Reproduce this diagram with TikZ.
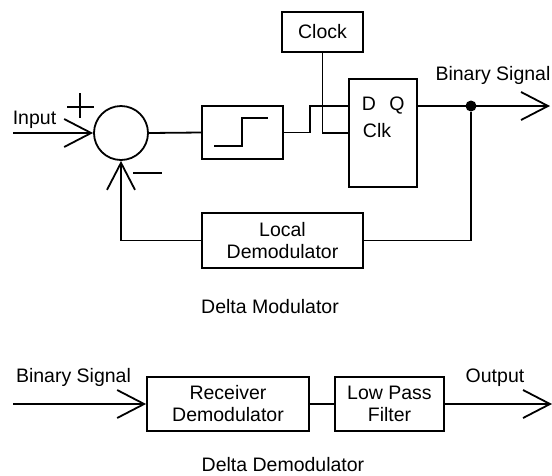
\documentclass[tikz,border=0pt]{standalone}
\usepackage{fontspec}
\setmainfont{Liberation Sans}
\usetikzlibrary{arrows.meta}
\begin{document}
\begin{tikzpicture}[x=1pt,y=-1pt,
  every node/.style={font=\fontsize{19.5}{22}\selectfont},
  wire/.style={line width=1.8pt},
  barb/.style={wire,-{Straight Barb[length=27pt,width=28pt]}},
  blk/.style={draw,line width=1.8pt,rectangle,inner sep=0pt,align=center},
  lbl/.style={anchor=base,inner sep=0pt}]
\useasboundingbox (0,0) rectangle (552,475);
% Delta modulator
\node[draw,circle,line width=1.8pt,minimum size=54pt,inner sep=0pt] (sum) at (121,133) {};
\node[blk,minimum width=81pt,minimum height=53pt] (quant) at (242.5,132.5) {};
\node[blk,minimum width=81pt,minimum height=40pt] (clock) at (322.5,32) {Clock};
\node[blk,minimum width=68pt,minimum height=108pt] (ff) at (383,133) {};
\node[blk,minimum width=161pt,minimum height=55pt] (local) at (282.5,240.5) {Local\\Demodulator};
\node[circle,fill,inner sep=0pt,minimum size=11pt] (dot) at (471,106) {};
\coordinate (in) at (13,133);
\coordinate (ffd) at (349,106);
\coordinate (ffclk) at (349,133);
\coordinate (ffq) at (417,106);
\coordinate (out) at (550,106);
% labels
\node[lbl] (tin) at (34.5,124) {Input};
\node[lbl] (tD) at (369,110) {D};
\node[lbl] (tQ) at (397,110) {Q};
\node[lbl] (tClk) at (377,137) {Clk};
\node[lbl] (tbin) at (493,80) {Binary Signal};
\node[lbl] (tdm) at (270,313) {Delta Modulator};
% signs
\draw[wire] (67,107) -- (94,107) (80,93) -- (80,118);
\draw[wire] (133,173) -- (162,173);
% quantizer step
\draw[wire] (214,146) -- (242,146) -- (242,118) -- (268,118);
% connectors
\draw[barb] (in) -- (sum.west);
\draw[wire] (sum.east) -- (quant.west);
\draw[wire] (quant.east) -- ++(26,0) |- (ffd);
\draw[wire] (clock.south) |- (ffclk);
\draw[barb] (ffq) -- (out);
\draw[wire] (dot) |- (local.east);
\draw[barb] (local.west) -| (sum.south);
% Delta demodulator
\node[blk,minimum width=162pt,minimum height=54pt] (recv) at (228,404) {Receiver\\Demodulator};
\node[blk,minimum width=109pt,minimum height=54pt] (lpf) at (389.5,404) {Low Pass\\Filter};
\coordinate (bin) at (13,404);
\coordinate (bout) at (552,404);
\node[lbl] (tbin2) at (73.5,382) {Binary Signal};
\node[lbl] (tout) at (495,382) {Output};
\node[lbl] (tdd) at (283,471) {Delta Demodulator};
\draw[barb] (bin) -- (recv.west);
\draw[wire] (recv.east) -- (lpf.west);
\draw[barb] (lpf.east) -- (bout);
\end{tikzpicture}
\end{document}
